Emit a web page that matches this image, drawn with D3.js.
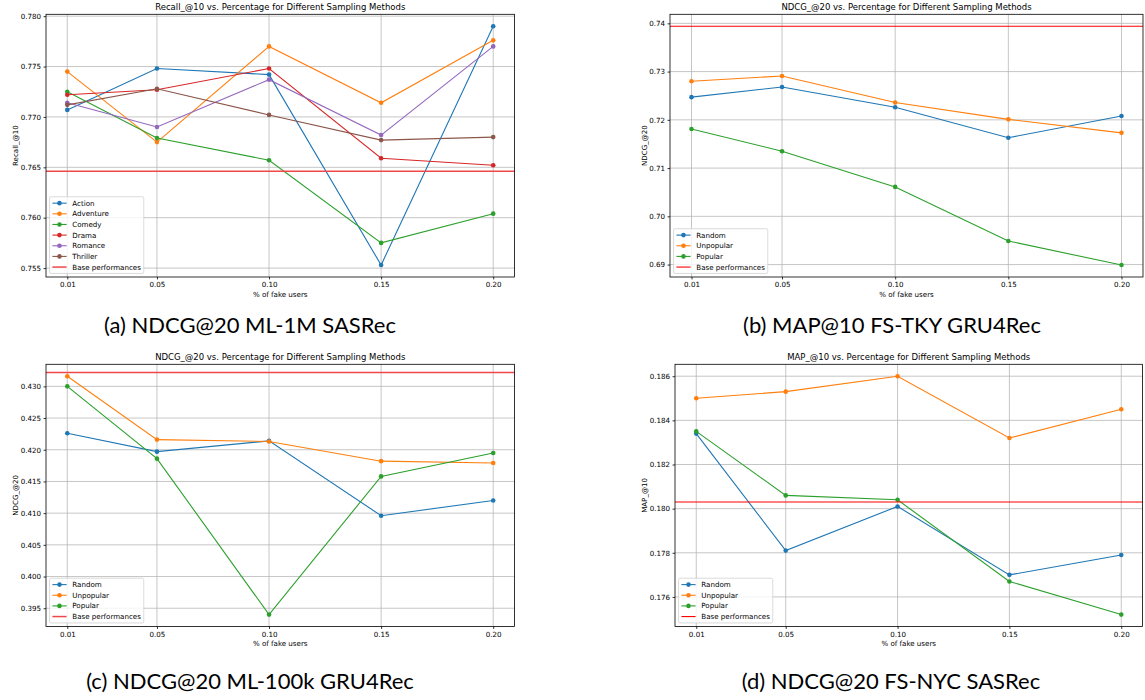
<!DOCTYPE html>
<html>
<head>
<meta charset="utf-8">
<script src="https://cdn.jsdelivr.net/npm/d3@7"></script>
<style>
  body { margin: 0; background: #fff; }
  svg { display: block; }
  .sans { font-family: "DejaVu Sans", sans-serif; fill: #000; }
  .caption { font-family: Lato, "Liberation Sans", sans-serif; fill: #000; }
</style>
</head>
<body>
<svg width="1145" height="700"></svg>
<script>
const width = 1145;
const height = 700;

// x axis: share of fake users
const fakeShares = [0.01, 0.05, 0.10, 0.15, 0.20];
const xTickLabels = ["0.01", "0.05", "0.10", "0.15", "0.20"];

// (a) ML-1M SASRec, one line per genre
const genreNames = ["Action", "Adventure", "Comedy", "Drama", "Romance", "Thriller"];
const recallAction = [0.7707, 0.7748, 0.7742, 0.7553, 0.7790];
const recallAdventure = [0.7745, 0.7675, 0.7770, 0.7714, 0.7776];
const recallComedy = [0.7725, 0.7679, 0.7657, 0.7575, 0.7604];
const recallDrama = [0.7722, 0.7727, 0.7748, 0.7659, 0.7652];
const recallRomance = [0.7714, 0.7690, 0.7737, 0.7682, 0.7770];
const recallThriller = [0.7712, 0.7728, 0.7702, 0.7677, 0.7680];
const recallBase = 0.7646;
const recallTicks = [0.755, 0.760, 0.765, 0.770, 0.775, 0.780];

// sampling methods for (b), (c), (d)
const samplingNames = ["Random", "Unpopular", "Popular"];

// (b) FS-TKY GRU4Rec
const tkyRandom = [0.7247, 0.7268, 0.7226, 0.7163, 0.7208];
const tkyUnpopular = [0.7280, 0.7291, 0.7236, 0.7201, 0.7173];
const tkyPopular = [0.7181, 0.7135, 0.7061, 0.6949, 0.6899];
const tkyBase = 0.7394;
const tkyTicks = [0.69, 0.70, 0.71, 0.72, 0.73, 0.74];

// (c) ML-100k GRU4Rec
const ml100kRandom = [0.4226, 0.4197, 0.4214, 0.4096, 0.4120];
const ml100kUnpopular = [0.4316, 0.4216, 0.4213, 0.4182, 0.4179];
const ml100kPopular = [0.4300, 0.4186, 0.3940, 0.4158, 0.4195];
const ml100kBase = 0.4322;
const ml100kTicks = [0.395, 0.400, 0.405, 0.410, 0.415, 0.420, 0.425, 0.430];

// (d) FS-NYC SASRec
const nycRandom = [0.1834, 0.1781, 0.1801, 0.1770, 0.1779];
const nycUnpopular = [0.1850, 0.1853, 0.1860, 0.1832, 0.1845];
const nycPopular = [0.1835, 0.1806, 0.1804, 0.1767, 0.1752];
const nycBase = 0.1803;
const nycTicks = [0.176, 0.178, 0.180, 0.182, 0.184, 0.186];

const tab10 = ["#1f77b4", "#ff7f0e", "#2ca02c", "#d62728", "#9467bd", "#8c564b"];
const fs = 7.1;   // tick / legend font size (10pt in the original figure)

const svg = d3.select("svg");

const panels = [
  {
    box: { left: 46, right: 514.5, top: 14.3, bottom: 277 },
    title: "Recall_@10 vs. Percentage for Different Sampling Methods",
    ylabel: "Recall_@10",
    names: genreNames,
    series: [recallAction, recallAdventure, recallComedy, recallDrama, recallRomance, recallThriller],
    base: recallBase, baseColor: "#f04848", baseWidth: 1.5,
    ticks: recallTicks, fmt: ".3f",
    caption: "(a) NDCG@20 ML-1M SASRec", capX: 250, capY: 333
  },
  {
    box: { left: 670, right: 1143, top: 14.3, bottom: 277 },
    title: "NDCG_@20 vs. Percentage for Different Sampling Methods",
    ylabel: "NDCG_@20",
    names: samplingNames,
    series: [tkyRandom, tkyUnpopular, tkyPopular],
    base: tkyBase, baseColor: "red", baseWidth: 1.1,
    ticks: tkyTicks, fmt: ".2f",
    caption: "(b) MAP@10 FS-TKY GRU4Rec", capX: 892, capY: 333
  },
  {
    box: { left: 46, right: 514.5, top: 364.3, bottom: 626.5 },
    title: "NDCG_@20 vs. Percentage for Different Sampling Methods",
    ylabel: "NDCG_@20",
    names: samplingNames,
    series: [ml100kRandom, ml100kUnpopular, ml100kPopular],
    base: ml100kBase, baseColor: "#f04848", baseWidth: 1.5,
    ticks: ml100kTicks, fmt: ".3f",
    caption: "(c) NDCG@20 ML-100k GRU4Rec", capX: 250, capY: 689
  },
  {
    box: { left: 675, right: 1142.5, top: 364.3, bottom: 626.5 },
    title: "MAP_@10 vs. Percentage for Different Sampling Methods",
    ylabel: "MAP_@10",
    names: samplingNames,
    series: [nycRandom, nycUnpopular, nycPopular],
    base: nycBase, baseColor: "red", baseWidth: 1.1,
    ticks: nycTicks, fmt: ".3f",
    caption: "(d) NDCG@20 FS-NYC SASRec", capX: 891, capY: 689
  }
];

function drawPanel(p) {
  const b = p.box;
  const g = svg.append("g");

  // matplotlib style autoscale: 5% margins, axhline only widens if outside
  const xPad = (d3.max(fakeShares) - d3.min(fakeShares)) * 0.05;
  const x = d3.scaleLinear()
    .domain([d3.min(fakeShares) - xPad, d3.max(fakeShares) + xPad])
    .range([b.left, b.right]);

  let [lo, hi] = d3.extent(p.series.flat());
  let pad = (hi - lo) * 0.05;
  if (p.base < lo - pad || p.base > hi + pad) {
    lo = Math.min(lo, p.base);
    hi = Math.max(hi, p.base);
    pad = (hi - lo) * 0.05;
  }
  const y = d3.scaleLinear()
    .domain([lo - pad, hi + pad])
    .range([b.bottom, b.top]);

  // grid
  g.append("g").selectAll("line")
    .data(fakeShares)
    .join("line")
    .attr("x1", d => x(d)).attr("x2", d => x(d))
    .attr("y1", b.top).attr("y2", b.bottom)
    .attr("stroke", "#b8b8b8").attr("stroke-width", 0.8);
  g.append("g").selectAll("line")
    .data(p.ticks)
    .join("line")
    .attr("x1", b.left).attr("x2", b.right)
    .attr("y1", d => y(d)).attr("y2", d => y(d))
    .attr("stroke", "#b8b8b8").attr("stroke-width", 0.8);

  // series
  const line = d3.line()
    .x((d, i) => x(fakeShares[i]))
    .y(d => y(d));

  p.series.forEach((vals, k) => {
    g.append("path")
      .datum(vals)
      .attr("d", line)
      .attr("fill", "none")
      .attr("stroke", tab10[k])
      .attr("stroke-width", 1.1);
    g.append("g").selectAll("circle")
      .data(vals)
      .join("circle")
      .attr("cx", (d, i) => x(fakeShares[i]))
      .attr("cy", d => y(d))
      .attr("r", 2.3)
      .attr("fill", tab10[k]);
  });

  // base performance line
  g.append("line")
    .attr("x1", b.left).attr("x2", b.right)
    .attr("y1", y(p.base)).attr("y2", y(p.base))
    .attr("stroke", p.baseColor)
    .attr("stroke-width", p.baseWidth);

  // frame
  g.append("rect")
    .attr("x", b.left).attr("y", b.top)
    .attr("width", b.right - b.left).attr("height", b.bottom - b.top)
    .attr("fill", "none").attr("stroke", "#000").attr("stroke-width", 0.8);

  // axes
  const xAxis = g.append("g")
    .attr("transform", `translate(0,${b.bottom})`)
    .call(d3.axisBottom(x).tickValues(fakeShares)
      .tickFormat((d, i) => xTickLabels[i])
      .tickSize(2.45).tickPadding(2.6));
  const yAxis = g.append("g")
    .attr("transform", `translate(${b.left},0)`)
    .call(d3.axisLeft(y).tickValues(p.ticks)
      .tickFormat(d3.format(p.fmt))
      .tickSize(2.45).tickPadding(2.45));
  [xAxis, yAxis].forEach(a => {
    a.select(".domain").remove();
    a.selectAll("line").attr("stroke", "#000").attr("stroke-width", 0.8);
    a.selectAll("text")
      .attr("class", "sans")
      .attr("font-size", fs);
  });

  // labels
  g.append("text")
    .attr("class", "sans")
    .attr("x", (b.left + b.right) / 2)
    .attr("y", b.top - 4.2)
    .attr("text-anchor", "middle")
    .attr("font-size", 8.5)
    .text(p.title);

  g.append("text")
    .attr("class", "sans")
    .attr("x", (b.left + b.right) / 2)
    .attr("y", b.bottom + 19.5)
    .attr("text-anchor", "middle")
    .attr("font-size", fs)
    .text("% of fake users");

  let tickW = 0;
  yAxis.selectAll("text").each(function () {
    tickW = Math.max(tickW, this.getComputedTextLength());
  });
  g.append("text")
    .attr("class", "sans")
    .attr("transform", `translate(${b.left - 4.9 - tickW - 2.3},${(b.top + b.bottom) / 2}) rotate(-90)`)
    .attr("text-anchor", "middle")
    .attr("font-size", fs)
    .text(p.ylabel);

  // legend, lower left
  const names = p.names.concat(["Base performances"]);
  const rowH = fs, gap = 0.5 * fs, bpad = 0.4 * fs;
  const handleLen = 2 * fs, textPad = 0.8 * fs;
  const boxH = 2 * bpad + names.length * rowH + (names.length - 1) * gap;
  const lx = b.left + 0.5 * fs;
  const ly = b.bottom - 0.5 * fs - boxH;

  const legend = g.append("g").attr("transform", `translate(${lx},${ly})`);
  const frame = legend.append("rect")
    .attr("rx", 1.5)
    .attr("fill", "#fff").attr("fill-opacity", 0.8)
    .attr("stroke", "#cccccc").attr("stroke-width", 0.7);

  let maxW = 0;
  names.forEach((name, i) => {
    const cy = bpad + rowH / 2 + i * (rowH + gap);
    const isBase = i === names.length - 1;
    const col = isBase ? p.baseColor : tab10[i];
    legend.append("line")
      .attr("x1", bpad).attr("x2", bpad + handleLen)
      .attr("y1", cy).attr("y2", cy)
      .attr("stroke", col)
      .attr("stroke-width", isBase ? p.baseWidth : 1.1);
    if (!isBase) {
      legend.append("circle")
        .attr("cx", bpad + handleLen / 2).attr("cy", cy)
        .attr("r", 2.3).attr("fill", col);
    }
    const t = legend.append("text")
      .attr("class", "sans")
      .attr("x", bpad + handleLen + textPad)
      .attr("y", cy)
      .attr("dy", "0.35em")
      .attr("font-size", fs)
      .text(name);
    maxW = Math.max(maxW, t.node().getComputedTextLength());
  });
  frame
    .attr("width", bpad + handleLen + textPad + maxW + bpad)
    .attr("height", boxH);

  // caption under the sub-figure
  svg.append("text")
    .attr("class", "caption")
    .attr("x", p.capX)
    .attr("y", p.capY)
    .attr("text-anchor", "middle")
    .attr("font-size", 22)
    .text(p.caption);
}

panels.forEach(drawPanel);
</script>
</body>
</html>
